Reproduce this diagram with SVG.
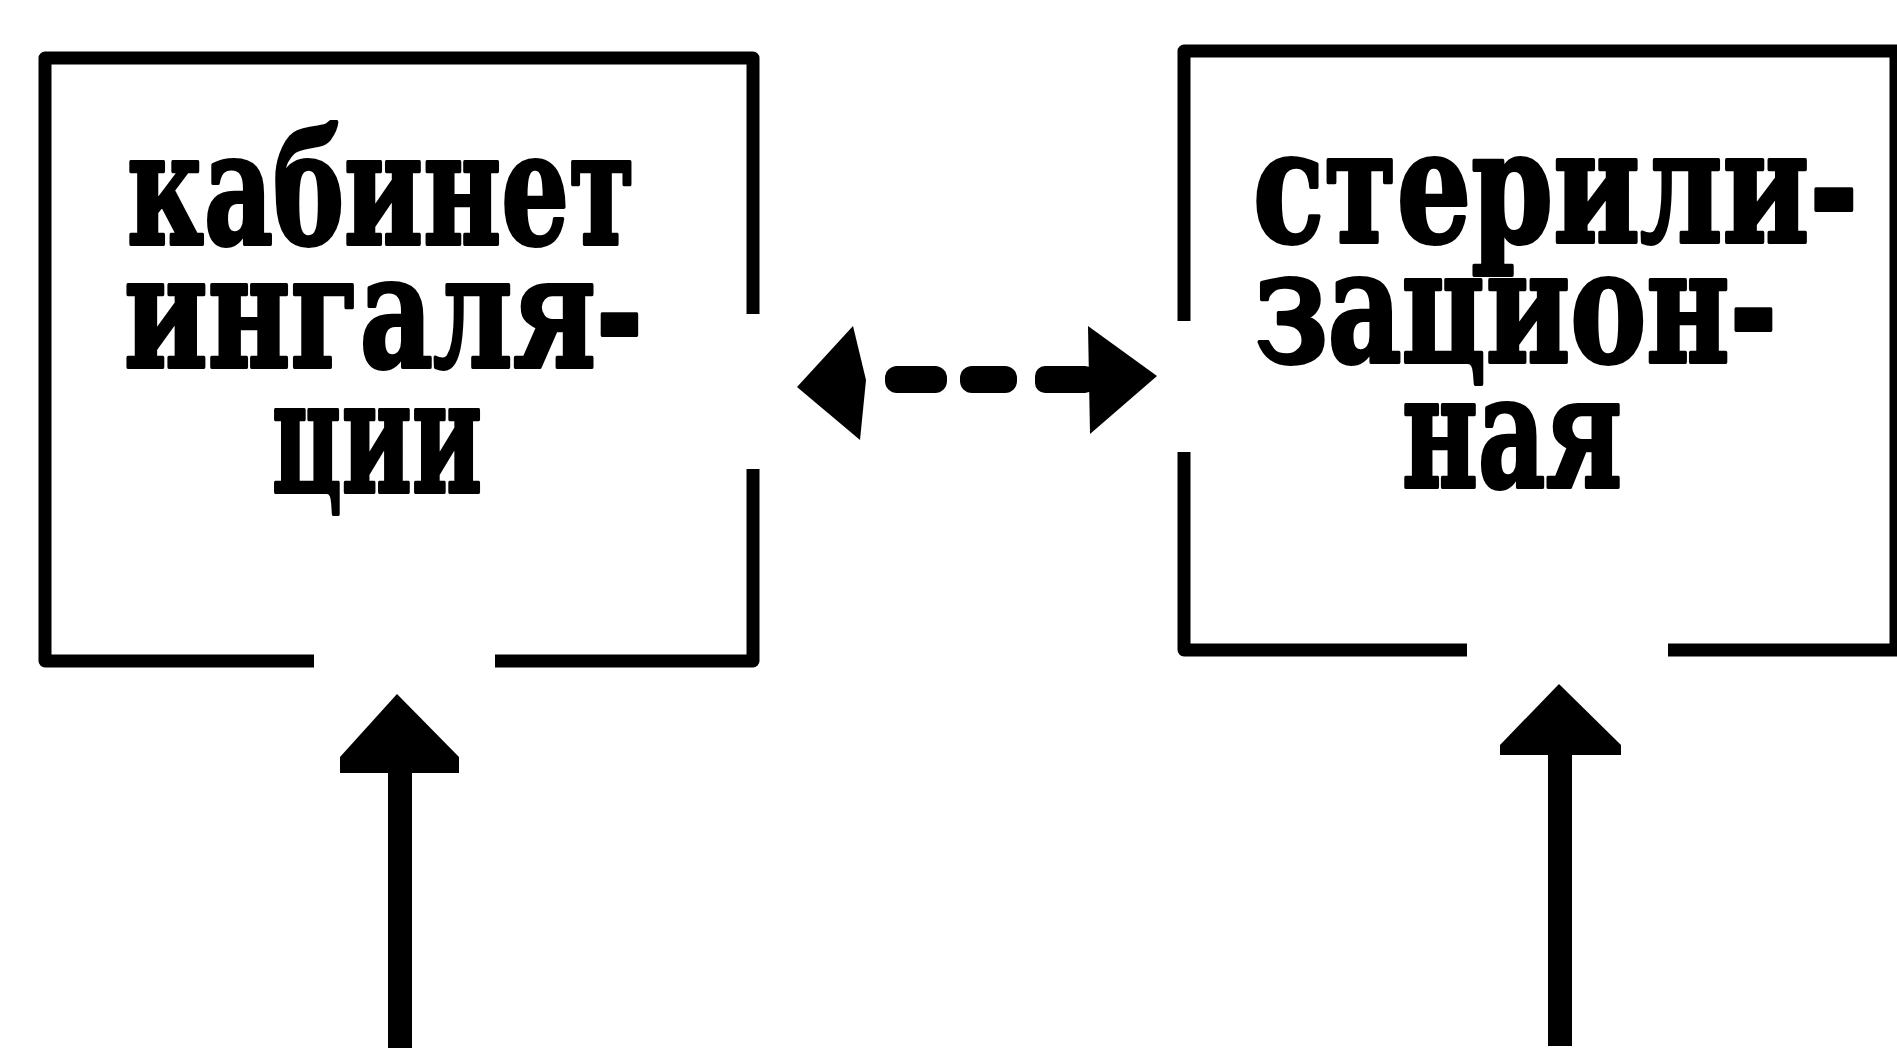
<svg xmlns="http://www.w3.org/2000/svg" width="1897" height="1052" viewBox="0 0 1897 1052">
<style>
.box{fill:none;stroke:#000;stroke-width:13;stroke-linejoin:round;stroke-linecap:butt}
.lbl{font-family:"DejaVu Serif","Liberation Serif",serif;font-weight:bold;font-size:158px;fill:#000;stroke:#000;stroke-width:4;stroke-linejoin:round}
.ink{fill:#000}
</style>
<rect width="1897" height="1052" fill="#fff"/>
<g id="node-inhalation">
<path class="box" d="M314,661 L45,661 L45,58 L753,58 L753,314"/>
<path class="box" d="M753,469 L753,661 L495,661"/>
<text class="lbl" x="127" y="244" textLength="508" lengthAdjust="spacingAndGlyphs">кабинет</text>
<text class="lbl" x="124" y="367" textLength="519" lengthAdjust="spacingAndGlyphs">ингаля-</text>
<text class="lbl" x="272" y="492" textLength="210" lengthAdjust="spacingAndGlyphs">ции</text>
</g>
<g id="node-sterilization">
<path class="box" d="M1184,321 L1184,51 L1896,51 L1896,650 L1668,650"/>
<path class="box" d="M1467,650 L1184,650 L1184,452"/>
<text class="lbl" x="1253" y="242" textLength="605" lengthAdjust="spacingAndGlyphs">стерили-</text>
<text class="lbl" x="1255" y="362" textLength="522" lengthAdjust="spacingAndGlyphs">зацион-</text>
<text class="lbl" x="1402" y="487" textLength="220" lengthAdjust="spacingAndGlyphs">ная</text>
</g>
<g id="connectors">
<g id="double-arrow">
<polygon class="ink" points="797,387 853,326 866,380 860,440"/>
<rect class="ink" x="885" y="366" width="62" height="27" rx="12"/>
<rect class="ink" x="960" y="366" width="57" height="27" rx="12"/>
<rect class="ink" x="1035" y="366" width="60" height="27" rx="10"/>
<polygon class="ink" points="1088,326 1157,376 1090,434"/>
</g>
<g id="arrow-left-up">
<polygon class="ink" points="397,694 340,757 340,773 459,773 459,757"/>
<rect class="ink" x="388" y="770" width="24" height="278"/>
</g>
<g id="arrow-right-up">
<polygon class="ink" points="1559,684 1500,745 1500,755 1621,755 1621,745"/>
<rect class="ink" x="1548" y="750" width="24" height="296"/>
</g>
</g>
</svg>
